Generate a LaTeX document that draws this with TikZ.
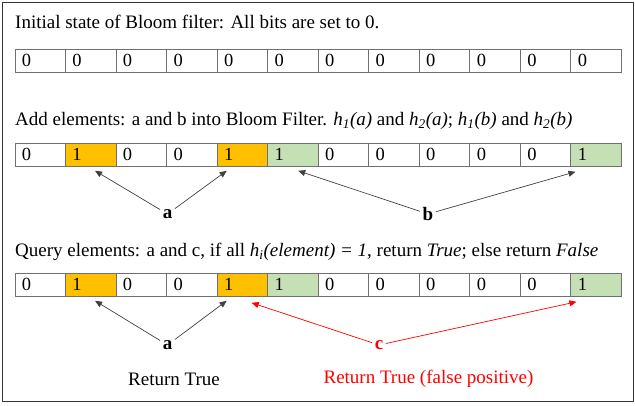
\documentclass[tikz,border=0pt]{standalone}
\usepackage{fontspec}
\setmainfont{Liberation Serif}
\usetikzlibrary{calc,arrows.meta}
\definecolor{orangefill}{HTML}{FFC000}
\definecolor{greenfill}{HTML}{C5E0B4}
\definecolor{framec}{HTML}{333333}
\definecolor{cellline}{HTML}{707070}
\definecolor{arrc}{HTML}{404040}
\definecolor{redc}{HTML}{FF0000}
\tikzset{
  cell/.style={draw=cellline, line width=0.8bp, anchor=north west, minimum height=23bp,
    text width=36.54bp, inner xsep=7bp, inner ysep=0bp, align=left,
    text height=12bp, text depth=0bp, font=\fontsize{18.5bp}{20bp}\selectfont},
  heading/.style={anchor=base west, inner sep=0bp, font=\fontsize{19bp}{22bp}\selectfont},
  elabel/.style={inner sep=2.5bp, font=\fontsize{19bp}{22bp}\selectfont\bfseries},
  arr/.style={draw=arrc, line width=0.7bp, -{Triangle[length=7bp,width=6bp]}},
  rarr/.style={draw=redc, line width=0.7bp, -{Triangle[length=7bp,width=6bp]}},
  result/.style={font=\fontsize{19bp}{22bp}\selectfont}
}
\begin{document}
\begin{tikzpicture}[x=1bp,y=-1bp]
\useasboundingbox (0,0) rectangle (635,405);
\node[draw=framec, line width=1.3bp, minimum width=631bp, minimum height=399bp, anchor=north west, inner sep=0] (frame) at (2,2) {};

% headings
\node[heading] (h1) at (15,28) {Initial state of Bloom filter: All bits are set to 0.};
\node[heading] (h2) at (15,125) {Add elements: a and b into Bloom Filter. \textit{h\textsubscript{1}(a)} and \textit{h\textsubscript{2}(a)}; \textit{h\textsubscript{1}(b)} and \textit{h\textsubscript{2}(b)}};
\node[heading] (h3) at (15,256) {Query elements: a and c, if all \textit{h\textsubscript{i}(element) = 1}, return \textit{True}; else return \textit{False}};

% row 1
\foreach \i in {1,...,12} {
  \node[cell] (r1-\i) at ({14.5+(\i-1)*50.54},49) {0};
}
% rows 2 and 3
\foreach \r/\y in {2/143,3/273} {
  \foreach \i/\v/\f in {1/0/white,2/1/orangefill,3/0/white,4/0/white,5/1/orangefill,6/1/greenfill,7/0/white,8/0/white,9/0/white,10/0/white,11/0/white,12/1/greenfill} {
    \node[cell, fill=\f] (r\r-\i) at ({14.5+(\i-1)*50.54},\y) {\v};
  }
}

% row 2 labels and arrows
\node[elabel] (a2) at (167.5,214) {a};
\node[elabel] (b2) at (428,214) {b};
\coordinate (t2a1) at ($(r2-2.south west)+(30,4)$);
\coordinate (t2a2) at ($(r2-5.south west)+(10,4)$);
\coordinate (t2b1) at ($(r2-6.south west)+(31,4)$);
\coordinate (t2b2) at ($(r2-12.south west)+(5,5)$);
\draw[arr] (a2) -- (t2a1);
\draw[arr] (a2) -- (t2a2);
\draw[arr] (b2) -- (t2b1);
\draw[arr] (b2) -- (t2b2);

% row 3 labels and arrows
\node[elabel] (a3) at (167.5,345) {a};
\node[elabel, text=redc] (c3) at (379,345) {c};
\coordinate (t3a1) at ($(r3-2.south west)+(30,4)$);
\coordinate (t3a2) at ($(r3-5.south west)+(10,4)$);
\coordinate (t3c1) at ($(r3-5.south west)+(35,6)$);
\coordinate (t3c2) at ($(r3-12.south west)+(6,5)$);
\draw[arr] (a3) -- (t3a1);
\draw[arr] (a3) -- (t3a2);
\draw[rarr] (c3) -- (t3c1);
\draw[rarr] (c3) -- (t3c2);

% results
\node[result] (res1) at (174,379) {Return True};
\node[result, text=redc] (res2) at (428.5,379) {Return True (false positive)};
\end{tikzpicture}
\end{document}
